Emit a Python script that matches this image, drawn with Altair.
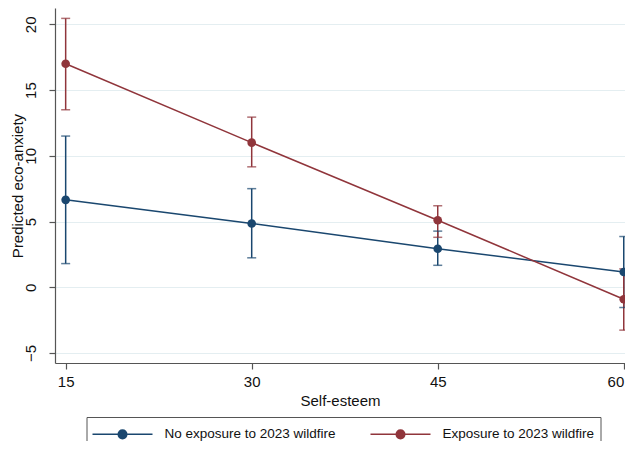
import altair as alt
import pandas as pd

esteem = [15, 30, 45, 60]
series_names = ["No exposure to 2023 wildfire", "Exposure to 2023 wildfire"]
no_est = [6.65, 4.85, 2.93, 1.16]
no_lo = [1.8, 2.24, 1.67, -1.54]
no_hi = [11.5, 7.5, 4.27, 3.86]
ex_est = [17.0, 11.0, 5.1, -0.91]
ex_lo = [13.5, 9.16, 3.8, -3.26]
ex_hi = [20.45, 12.94, 6.2, 1.4]
colors = ["#1a476f", "#90353b"]
x_ticks = [15, 30, 45, 60]
y_ticks = [-5, 0, 5, 10, 15, 20]

rows = []
for name, est, lo, hi in [
    (series_names[0], no_est, no_lo, no_hi),
    (series_names[1], ex_est, ex_lo, ex_hi),
]:
    for xv, e, l, h in zip(esteem, est, lo, hi):
        rows.append({"esteem": xv, "series": name, "est": e, "lo": l, "hi": h})
df = pd.DataFrame(rows)

FONT = "Liberation Sans"

xscale = alt.Scale(domain=[14.14, 60.1], nice=False, zero=False)
yscale = alt.Scale(domain=[-5.76, 21.24], nice=False, zero=False)

x_enc = alt.X(
    "esteem:Q",
    scale=xscale,
    axis=alt.Axis(
        values=x_ticks,
        title="Self-esteem",
        grid=False,
        format="d",
        labelPadding=5,
        labelAlign={"condition": {"test": "datum.value >= 60", "value": "right"}, "value": "center"},
    ),
)
color_enc = alt.Color(
    "series:N",
    scale=alt.Scale(domain=series_names, range=colors),
    legend=None,
)


def ring(cx, r):
    return f"M {cx + r} 0 A {r} {r} 0 1 1 {cx - r} 0 A {r} {r} 0 1 1 {cx + r} 0 "


symbol_path = "M -1.1 0 L 4.9 0 " + "".join(ring(1.9, r) for r in (0.43, 0.29, 0.15, 0.04))

base = alt.Chart(df)

lines = base.mark_line(strokeWidth=1.5).encode(
    x=x_enc,
    y=alt.Y(
        "est:Q",
        scale=yscale,
        axis=alt.Axis(
            values=y_ticks,
            title="Predicted eco-anxiety",
            labelAngle=270,
            labelPadding=11,
            titlePadding=-2,
        ),
    ),
    color=alt.Color(
        "series:N",
        scale=alt.Scale(domain=series_names, range=colors),
        legend=alt.Legend(
            title=None,
            orient="none",
            legendX=31.5,
            legendY=409,
            direction="horizontal",
            symbolType=symbol_path,
            symbolSize=400,
            symbolStrokeWidth=1.5,
            labelOffset=50,
            columnPadding=31,
            padding=6,
            strokeColor="#555555",
            fillColor="white",
            labelFontSize=13.5,
            labelFont=FONT,
            labelColor="#111111",
            labelLimit=400,
        ),
    ),
)

rules = base.mark_rule(strokeWidth=1.5).encode(
    x=x_enc, y=alt.Y("lo:Q", scale=yscale), y2="hi:Q", color=color_enc
)
caps_lo = base.mark_tick(orient="horizontal", size=9, thickness=1.5).encode(
    x=x_enc, y=alt.Y("lo:Q", scale=yscale), color=color_enc
)
caps_hi = base.mark_tick(orient="horizontal", size=9, thickness=1.5).encode(
    x=x_enc, y=alt.Y("hi:Q", scale=yscale), color=color_enc
)
points = base.mark_circle(size=75, opacity=1).encode(
    x=x_enc, y=alt.Y("est:Q", scale=yscale), color=color_enc
)

chart = (
    alt.layer(lines, rules, caps_lo, caps_hi, points)
    .properties(
        width=570,
        height=355,
        autosize=alt.AutoSizeParams(type="none"),
        padding={"left": 47, "top": 0, "right": 0, "bottom": 78},
        background="white",
    )
    .configure_view(stroke=None)
    .configure_axis(
        labelFont=FONT,
        titleFont=FONT,
        labelFontSize=15,
        titleFontSize=15,
        titleFontWeight="normal",
        labelColor="#111111",
        titleColor="#111111",
        domainColor="#555555",
        tickColor="#555555",
        domainWidth=1.2,
        tickWidth=1.2,
        tickSize=6,
        gridColor="#e4eef1",
        gridWidth=1.2,
    )
    .configure_axisX(titlePadding=4)
)

chart.save("out.html", embed_options={"renderer": "svg", "actions": False})
